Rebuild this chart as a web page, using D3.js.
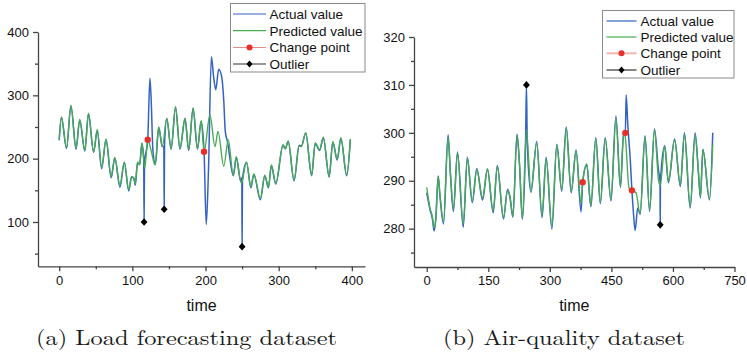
<!DOCTYPE html>
<html>
<head>
<meta charset="utf-8">
<script src="https://cdn.jsdelivr.net/npm/d3@7"></script>
<style>
  body { margin: 0; background: #fff; }
  svg { display: block; }
</style>
</head>
<body>
<div id="chart"></div>
<script>
// ---- data: [time, value] ----
const loadPredicted = [[0,230],[3,266],[10,217],[16,284],[23,216],[28,262],[35,213],[40,272],[47,211],[52,246],[58,186],[64,231],[71,172],[76,202],[83,158],[89,195],[95,151],[99,172],[102,169],[104,160],[107,195],[110,190],[113,225],[117,185],[121,230],[126,211],[131,190],[136,250],[141,219],[147,264],[153,216],[159,282],[165,216],[172,264],[177,214],[183,280],[189,216],[194,260],[198,211],[206,269],[213,219],[217,243],[225,188],[231,230],[238,174],[242,203],[249,161],[256,195],[262,156],[266,176],[275,137],[281,174],[286,155],[290,190],[296,161],[306,222],[309,215],[313,228],[321,166],[328,220],[331,219],[337,241],[345,174],[350,225],[356,214],[361,234],[369,172],[374,227],[380,199],[385,233],[393,174],[398,231]];
const loadActual = [[0,229],[3,265],[10,216],[16,283],[23,215],[28,261],[35,212],[40,271],[47,210],[52,244],[58,184],[64,230],[71,170],[76,201],[83,155],[89,194],[95,149],[99,171],[102,169],[104,158],[107,193],[110,191],[113,224],[115.5,200],[116,100],[116.6,192],[121,230],[124,327],[126,284],[128,214],[131.5,191],[136,249],[141,219],[143,219],[143.5,120],[144,222],[147,263],[153,215],[159,281],[165,215],[172,263],[177,213],[183,279],[189,215],[194,259],[198,211],[201,96],[204,180],[208,361],[211,330],[214,309],[218,341],[222,330],[225,290],[227,243],[230,227],[238,173],[242,202],[248,165],[249.6,170],[250,61],[250.5,168],[256,194],[262,154],[266,175],[275,135],[281,173],[286,154],[290,189],[296,160],[306,221],[309,216],[313,227],[321,165],[328,221],[331,220],[337,240],[345,173],[350,224],[356,213],[361,233],[369,171],[374,226],[380,198],[385,232],[393,173],[398,230]];
const loadChange = [[121,230],[198,211]];
const loadOutlier = [[116,100],[143.5,120],[250,61]];

const airPredicted = [[0,288.6],[8,284.3],[14,282.4],[18,280.2],[22,282],[28,290.8],[32,287.4],[41,281.5],[52,299],[58,291.3],[65,284],[75,295.8],[89,281],[99,294.7],[111,285.7],[122,292.3],[136,286.4],[148,292.5],[162,283.7],[172,293],[187,282.2],[197,288],[203,286.7],[210,282.6],[220,299.5],[226,293.7],[233,282.2],[243,300.6],[254,288],[268,297.9],[281,282.6],[291,294.7],[305,280.5],[317,297.5],[329,288.1],[340,301],[352,287.8],[364,296.2],[376,285.3],[380,289.7],[390,293.5],[400,284.9],[412,298.8],[423,285.5],[435,298.9],[449,286],[461,303],[472,288.8],[480,300.3],[484,299],[493,288.5],[500,288],[510,287.5],[520,283],[532,299.2],[543,284],[555,300.6],[565,290],[569,289],[580,297.1],[589,289.9],[604,298.5],[618,289],[628,299.7],[642,284.6],[654,299.4],[662,292],[667,286.7],[673,296.5],[689,286.2],[697,297.5]];
const airActual = [[0,287.5],[8,284],[14,282],[18,279.5],[22,281.8],[28,291],[32,287],[41,281],[52,299.6],[58,291],[65,283.6],[75,296],[89,280.3],[99,294.9],[111,285.4],[122,292.5],[136,286],[148,292.4],[162,283.3],[172,293.2],[187,282],[197,288.2],[203,286.4],[210,282.4],[220,299.7],[226,293.5],[233,282],[241,299],[243,310],[245,298],[254,287.6],[268,298.2],[281,282.3],[291,294.9],[305,279.9],[317,297.6],[329,287.8],[340,301.2],[352,287.5],[364,296.4],[376,283.5],[380,289.7],[390,293.3],[400,284.6],[412,299],[423,285.2],[435,299],[449,285.8],[461,303.5],[472,288.6],[480,300],[484,300],[486,307.9],[490,301.7],[496,294.4],[500,288],[504,283],[508,279.6],[514,284.3],[520,283],[532,299.4],[543,283.6],[555,300.8],[565,292],[568.5,290],[569,280.8],[569.5,290],[580,297.3],[589,289.6],[604,298.7],[618,288.8],[628,300],[642,284.3],[654,300],[662,291.8],[667,286.4],[673,296.6],[689,286],[697,300]];
const airChange = [[380,289.7],[484,300],[500,288]];
const airOutlier = [[243,310],[569,280.8]];

const loadXTicks = [0, 100, 200, 300, 400];
const loadXMinor = [50, 150, 250, 350];
const loadYTicks = [100, 200, 300, 400];
const loadYMinor = [50, 150, 250, 350];
const airXTicks = [0, 150, 300, 450, 600, 750];
const airXMinor = [75, 225, 375, 525, 675];
const airYTicks = [280, 290, 300, 310, 320];
const airYMinor = [275, 285, 295, 305, 315];

const legendLabels = ["Actual value", "Predicted value", "Change point", "Outlier"];

// ---- styling ----
const W = 747, H = 357;
const blue = "#3462c4", green = "#47ab50", red = "#e8302a";
const sans = "Arial, 'Liberation Sans', sans-serif";
const serif = "'Latin Modern Roman', 'Liberation Serif', serif";

const svg = d3.select("#chart").append("svg")
  .attr("width", W)
  .attr("height", H);

function diamond(r) {
  return `M0,${-r}L${r * 0.9},0L0,${r}L${-r * 0.9},0Z`;
}

function drawPanel(cfg) {
  const x = d3.scaleLinear().domain(cfg.xDomain).range(cfg.xRange);
  const y = d3.scaleLinear().domain(cfg.yDomain).range(cfg.yRange);
  const g = svg.append("g");
  const bottom = cfg.yRange[0];
  const left = cfg.xRange[0];

  // minor ticks
  g.append("g")
    .attr("transform", `translate(0,${bottom})`)
    .call(d3.axisBottom(x).tickValues(cfg.xMinor).tickSize(3).tickFormat(""))
    .call(a => a.select(".domain").remove());
  g.append("g")
    .attr("transform", `translate(${left},0)`)
    .call(d3.axisLeft(y).tickValues(cfg.yMinor).tickSize(3).tickFormat(""))
    .call(a => a.select(".domain").remove());

  // major axes
  g.append("g")
    .attr("transform", `translate(0,${bottom})`)
    .call(d3.axisBottom(x).tickValues(cfg.xTicks).tickSize(5).tickSizeOuter(0).tickPadding(4));
  g.append("g")
    .attr("transform", `translate(${left},0)`)
    .call(d3.axisLeft(y).tickValues(cfg.yTicks).tickSize(5).tickSizeOuter(0).tickPadding(4));

  g.selectAll(".domain, .tick line")
    .attr("stroke", "#444")
    .attr("stroke-width", 1.3);
  g.selectAll(".tick text")
    .attr("fill", "#111")
    .style("font-family", sans)
    .style("font-size", "13px");

  // lines
  const line = d3.line()
    .x(d => x(d[0]))
    .y(d => y(d[1]))
    .curve(d3.curveMonotoneX);

  g.append("path")
    .datum(cfg.actual)
    .attr("fill", "none")
    .attr("stroke", blue)
    .attr("stroke-width", 1.5)
    .attr("d", line);

  g.append("path")
    .datum(cfg.predicted)
    .attr("fill", "none")
    .attr("stroke", green)
    .attr("stroke-width", 1.35)
    .attr("d", line);

  // markers
  g.selectAll(".cp")
    .data(cfg.change)
    .enter()
    .append("circle")
    .attr("cx", d => x(d[0]))
    .attr("cy", d => y(d[1]))
    .attr("r", 3.2)
    .attr("fill", red);

  g.selectAll(".ol")
    .data(cfg.outlier)
    .enter()
    .append("path")
    .attr("transform", d => `translate(${x(d[0])},${y(d[1])})`)
    .attr("d", diamond(3.8))
    .attr("fill", "#000");

  // axis title
  g.append("text")
    .attr("x", (cfg.xRange[0] + cfg.xRange[1]) / 2)
    .attr("y", 311)
    .attr("text-anchor", "middle")
    .style("font-family", sans)
    .style("font-size", "16px")
    .attr("fill", "#111")
    .text("time");

  // caption
  g.append("text")
    .attr("x", cfg.captionX)
    .attr("y", 345)
    .attr("text-anchor", "middle")
    .attr("textLength", cfg.captionWidth)
    .attr("lengthAdjust", "spacingAndGlyphs")
    .style("font-family", serif)
    .style("font-size", "21px")
    .attr("fill", "#1a1a1a")
    .text(cfg.caption);

  // legend
  const L = cfg.legend;
  const lg = svg.append("g");
  lg.append("rect")
    .attr("x", L.x0).attr("y", L.y0)
    .attr("width", L.x1 - L.x0).attr("height", L.y1 - L.y0)
    .attr("fill", "#fff")
    .attr("stroke", "#8a8a8a")
    .attr("stroke-width", 1);

  const lineColors = [blue, green, L.changeLine, "#333"];
  legendLabels.forEach((label, i) => {
    const yy = L.rows[i];
    lg.append("line")
      .attr("x1", L.lx1).attr("x2", L.lx2)
      .attr("y1", yy).attr("y2", yy)
      .attr("stroke", lineColors[i])
      .attr("stroke-width", i === 2 ? L.changeWidth : 1.2);
    const mx = (L.lx1 + L.lx2) / 2;
    if (i === 2) {
      lg.append("circle").attr("cx", mx).attr("cy", yy).attr("r", 3).attr("fill", red);
    } else if (i === 3) {
      lg.append("path").attr("transform", `translate(${mx},${yy})`).attr("d", diamond(3.4)).attr("fill", "#000");
    }
    lg.append("text")
      .attr("x", L.tx)
      .attr("y", yy)
      .attr("dy", "0.36em")
      .style("font-family", sans)
      .style("font-size", "13.5px")
      .attr("fill", "#111")
      .text(label);
  });
}

drawPanel({
  xDomain: [-29, 418], xRange: [38, 365],
  yDomain: [30, 400], yRange: [266.3, 32],
  xTicks: loadXTicks, xMinor: loadXMinor,
  yTicks: loadYTicks, yMinor: loadYMinor,
  actual: loadActual, predicted: loadPredicted,
  change: loadChange, outlier: loadOutlier,
  caption: "(a) Load forecasting dataset", captionX: 186.5, captionWidth: 301,
  legend: { x0: 230.5, y0: 3.5, x1: 365, y1: 72, rows: [14, 30.7, 47.5, 64],
            lx1: 233, lx2: 266, tx: 269.5, changeLine: "#f08a84", changeWidth: 1 }
});

drawPanel({
  xDomain: [-31, 750], xRange: [414, 734.5],
  yDomain: [272, 320], yRange: [267, 37],
  xTicks: airXTicks, xMinor: airXMinor,
  yTicks: airYTicks, yMinor: airYMinor,
  actual: airActual, predicted: airPredicted,
  change: airChange, outlier: airOutlier,
  caption: "(b) Air-quality dataset", captionX: 564, captionWidth: 242,
  legend: { x0: 602.5, y0: 10.5, x1: 734, y1: 78, rows: [21, 37, 53.3, 70],
            lx1: 606.5, lx2: 636.5, tx: 640.5, changeLine: "#f6b4b0", changeWidth: 2 }
});
</script>
</body>
</html>
